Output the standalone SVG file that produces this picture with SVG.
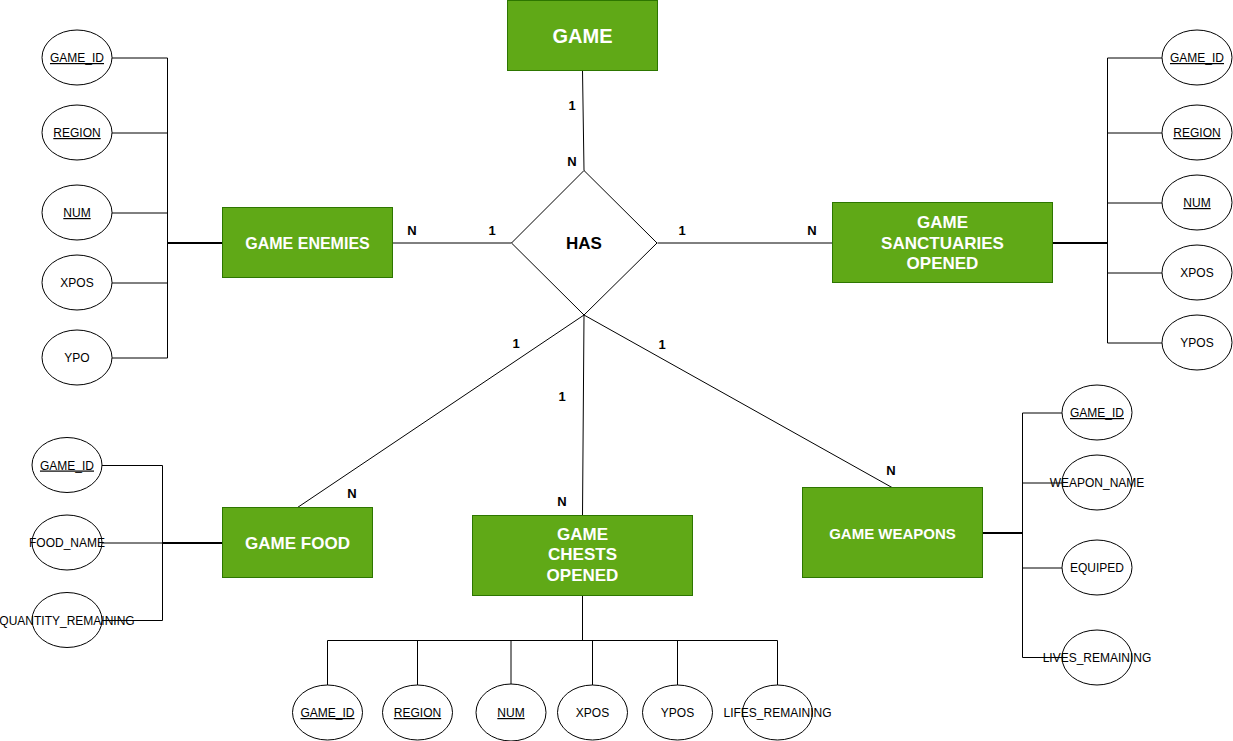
<svg xmlns="http://www.w3.org/2000/svg" width="1233" height="741" viewBox="0 0 1233 741">
<style>
text{font-family:"Liberation Sans",Arial,Helvetica,sans-serif}
.ent rect{fill:#60a917;stroke:#2d7600;stroke-width:1}
.ent text{fill:#fff;font-weight:bold;text-anchor:middle}
.attr ellipse{fill:#fff;stroke:#000;stroke-width:1}
.attr text{fill:#000;font-size:12px;text-anchor:middle}
.key{text-decoration:underline}
.ln{stroke:#000;stroke-width:1;fill:none}
.thick{stroke:#000;stroke-width:2;fill:none}
.lbl{font-size:13px;font-weight:bold;fill:#000;text-anchor:middle}
</style>
<rect width="1233" height="741" fill="#fff"/>
<g id="connectors">
<!-- relationship lines -->
<line class="ln" x1="582.5" y1="70.5" x2="584" y2="170.5"/>
<line class="ln" x1="392.5" y1="243" x2="511.5" y2="243"/>
<line class="ln" x1="657.5" y1="243" x2="832.5" y2="243"/>
<line class="ln" x1="584" y1="315" x2="297.5" y2="507.5"/>
<line class="ln" x1="584" y1="315" x2="582.5" y2="515.5"/>
<line class="ln" x1="584" y1="315" x2="892" y2="487.5"/>
<!-- enemies attributes -->
<line class="ln" x1="167.5" y1="58" x2="167.5" y2="358"/>
<line class="ln" x1="112" y1="58" x2="167.5" y2="58"/>
<line class="ln" x1="112" y1="133" x2="167.5" y2="133"/>
<line class="ln" x1="112" y1="213" x2="167.5" y2="213"/>
<line class="ln" x1="112" y1="283" x2="167.5" y2="283"/>
<line class="ln" x1="112" y1="358" x2="167.5" y2="358"/>
<line class="thick" x1="167" y1="243" x2="222.5" y2="243"/>
<!-- sanctuaries attributes -->
<line class="ln" x1="1107.5" y1="58" x2="1107.5" y2="343"/>
<line class="ln" x1="1107.5" y1="58" x2="1162" y2="58"/>
<line class="ln" x1="1107.5" y1="133" x2="1162" y2="133"/>
<line class="ln" x1="1107.5" y1="203" x2="1162" y2="203"/>
<line class="ln" x1="1107.5" y1="273" x2="1162" y2="273"/>
<line class="ln" x1="1107.5" y1="343" x2="1162" y2="343"/>
<line class="thick" x1="1052.5" y1="243" x2="1108" y2="243"/>
<!-- food attributes -->
<line class="ln" x1="162.5" y1="465.5" x2="162.5" y2="620.5"/>
<line class="ln" x1="102" y1="465.5" x2="162.5" y2="465.5"/>
<line class="ln" x1="102" y1="543" x2="162.5" y2="543"/>
<line class="ln" x1="102" y1="620.5" x2="162.5" y2="620.5"/>
<line class="thick" x1="162" y1="543" x2="222.5" y2="543"/>
<!-- chests attributes -->
<line class="ln" x1="582.5" y1="595.5" x2="582.5" y2="640.5"/>
<line class="ln" x1="327.5" y1="640.5" x2="777.5" y2="640.5"/>
<line class="ln" x1="327.5" y1="640.5" x2="327.5" y2="685"/>
<line class="ln" x1="417.5" y1="640.5" x2="417.5" y2="685"/>
<line class="ln" x1="511" y1="640.5" x2="511" y2="684"/>
<line class="ln" x1="592.5" y1="640.5" x2="592.5" y2="685"/>
<line class="ln" x1="677.5" y1="640.5" x2="677.5" y2="685"/>
<line class="ln" x1="777.5" y1="640.5" x2="777.5" y2="685"/>
<!-- weapons attributes -->
<line class="ln" x1="1022.5" y1="413" x2="1022.5" y2="657.5"/>
<line class="ln" x1="1022.5" y1="413" x2="1062" y2="413"/>
<line class="ln" x1="1022.5" y1="483" x2="1062" y2="483"/>
<line class="ln" x1="1022.5" y1="568" x2="1062" y2="568"/>
<line class="ln" x1="1022.5" y1="657.5" x2="1062" y2="657.5"/>
<line class="thick" x1="982.5" y1="533" x2="1023" y2="533"/>
<!-- cardinality labels -->
<text class="lbl" x="572" y="110">1</text>
<text class="lbl" x="572" y="166">N</text>
<text class="lbl" x="412" y="235">N</text>
<text class="lbl" x="492" y="235">1</text>
<text class="lbl" x="682" y="235">1</text>
<text class="lbl" x="812" y="235">N</text>
<text class="lbl" x="516" y="348">1</text>
<text class="lbl" x="562" y="401">1</text>
<text class="lbl" x="662" y="349">1</text>
<text class="lbl" x="352" y="498">N</text>
<text class="lbl" x="562" y="506">N</text>
<text class="lbl" x="891" y="475">N</text>
</g>
<g id="game" class="ent"><rect x="507.5" y="0.5" width="150" height="70"/><text x="582.5" y="43" font-size="20">GAME</text></g>
<g id="has"><polygon points="584,170.5 657,243 584,315 511.5,243" fill="#fff" stroke="#000" stroke-width="1"/><text x="584" y="249" font-size="17" font-weight="bold" text-anchor="middle" fill="#000">HAS</text></g>
<g id="game-enemies" class="ent"><rect x="222.5" y="207.5" width="170" height="70"/><text x="307.5" y="249" font-size="16">GAME ENEMIES</text></g>
<g id="game-sanctuaries" class="ent"><rect x="832.5" y="202.5" width="220" height="80"/><text x="942.5" font-size="17"><tspan x="942.5" y="228">GAME</tspan><tspan x="942.5" y="248.5">SANCTUARIES</tspan><tspan x="942.5" y="269">OPENED</tspan></text></g>
<g id="game-food" class="ent"><rect x="222.5" y="507.5" width="150" height="70"/><text x="297.5" y="548.5" font-size="17">GAME FOOD</text></g>
<g id="game-chests" class="ent"><rect x="472.5" y="515.5" width="220" height="80"/><text x="582.5" font-size="17"><tspan x="582.5" y="539.5">GAME</tspan><tspan x="582.5" y="560">CHESTS</tspan><tspan x="582.5" y="580.5">OPENED</tspan></text></g>
<g id="game-weapons" class="ent"><rect x="802.5" y="487.5" width="180" height="90"/><text x="892.5" y="539" font-size="15">GAME WEAPONS</text></g>
<!-- enemies attributes -->
<g id="en-game-id" class="attr"><ellipse cx="77" cy="57.5" rx="35" ry="27.5"/><text class="key" x="77" y="62">GAME_ID</text></g>
<g id="en-region" class="attr"><ellipse cx="77" cy="132.5" rx="35" ry="27.5"/><text class="key" x="77" y="137">REGION</text></g>
<g id="en-num" class="attr"><ellipse cx="77" cy="212.5" rx="35" ry="27.5"/><text class="key" x="77" y="217">NUM</text></g>
<g id="en-xpos" class="attr"><ellipse cx="77" cy="282.5" rx="35" ry="27.5"/><text x="77" y="287">XPOS</text></g>
<g id="en-ypo" class="attr"><ellipse cx="77" cy="357.5" rx="35" ry="27.5"/><text x="77" y="362">YPO</text></g>
<!-- sanctuaries attributes -->
<g id="sa-game-id" class="attr"><ellipse cx="1197" cy="57.5" rx="35" ry="27.5"/><text class="key" x="1197" y="62">GAME_ID</text></g>
<g id="sa-region" class="attr"><ellipse cx="1197" cy="132.5" rx="35" ry="27.5"/><text class="key" x="1197" y="137">REGION</text></g>
<g id="sa-num" class="attr"><ellipse cx="1197" cy="202.5" rx="35" ry="27.5"/><text class="key" x="1197" y="207">NUM</text></g>
<g id="sa-xpos" class="attr"><ellipse cx="1197" cy="272.5" rx="35" ry="27.5"/><text x="1197" y="277">XPOS</text></g>
<g id="sa-ypos" class="attr"><ellipse cx="1197" cy="342.5" rx="35" ry="27.5"/><text x="1197" y="347">YPOS</text></g>
<!-- food attributes -->
<g id="fo-game-id" class="attr"><ellipse cx="67" cy="465" rx="35" ry="27.5"/><text class="key" x="67" y="469.5">GAME_ID</text></g>
<g id="fo-food-name" class="attr"><ellipse cx="67" cy="542.5" rx="35" ry="27.5"/><text x="67" y="547">FOOD_NAME</text></g>
<g id="fo-quantity" class="attr"><ellipse cx="67" cy="620" rx="35" ry="27.5"/><text x="67" y="624.5">QUANTITY_REMAINING</text></g>
<!-- chests attributes -->
<g id="ch-game-id" class="attr"><ellipse cx="327.5" cy="712.5" rx="35" ry="27.5"/><text class="key" x="327.5" y="717">GAME_ID</text></g>
<g id="ch-region" class="attr"><ellipse cx="417.5" cy="712.5" rx="35" ry="27.5"/><text class="key" x="417.5" y="717">REGION</text></g>
<g id="ch-num" class="attr"><ellipse cx="511" cy="712.5" rx="35" ry="28.5"/><text class="key" x="511" y="717">NUM</text></g>
<g id="ch-xpos" class="attr"><ellipse cx="592.5" cy="712.5" rx="35" ry="27.5"/><text x="592.5" y="717">XPOS</text></g>
<g id="ch-ypos" class="attr"><ellipse cx="677.5" cy="712.5" rx="35" ry="27.5"/><text x="677.5" y="717">YPOS</text></g>
<g id="ch-lifes" class="attr"><ellipse cx="777.5" cy="712.5" rx="35" ry="27.5"/><text x="777.5" y="717">LIFES_REMAINING</text></g>
<!-- weapons attributes -->
<g id="we-game-id" class="attr"><ellipse cx="1097" cy="412.5" rx="35" ry="27.5"/><text class="key" x="1097" y="417">GAME_ID</text></g>
<g id="we-weapon-name" class="attr"><ellipse cx="1097" cy="482.5" rx="35" ry="27.5"/><text x="1097" y="487">WEAPON_NAME</text></g>
<g id="we-equiped" class="attr"><ellipse cx="1097" cy="567.5" rx="35" ry="27.5"/><text x="1097" y="572">EQUIPED</text></g>
<g id="we-lives" class="attr"><ellipse cx="1097" cy="657.5" rx="35" ry="27.5"/><text x="1097" y="662">LIVES_REMAINING</text></g>
</svg>
